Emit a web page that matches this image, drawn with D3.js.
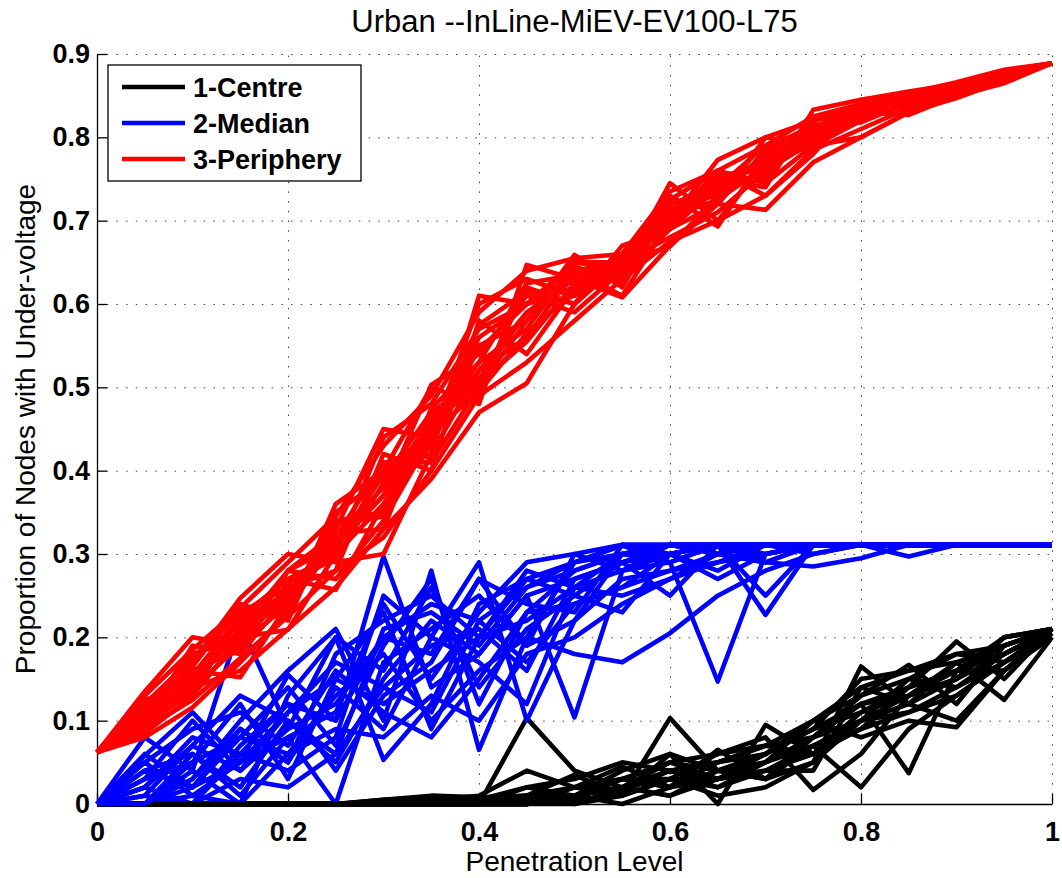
<!DOCTYPE html>
<html>
<head>
<meta charset="utf-8">
<title>Urban --InLine-MiEV-EV100-L75</title>
<script src="https://d3js.org/d3.v7.min.js"></script>
<style>
body { margin: 0; background: #fff; }
svg { font-family: Arial, "Liberation Sans", Helvetica, sans-serif; }
.grid line { stroke: #444; stroke-width: 1; stroke-dasharray: 1.5,8.2; }
.grid .domain { display: none; }
.axis path, .axis line { stroke: #000; stroke-width: 1.3; }
.axis text { font-size: 27px; font-weight: bold; fill: #000; }
.run { fill: none; stroke-width: 4.6; stroke-linejoin: round; }
</style>
</head>
<body>
<script>

// Penetration levels (x) shared by every run
var penetration = [0, 0.05, 0.1, 0.15, 0.2, 0.25, 0.3, 0.35, 0.4, 0.45, 0.5,
                   0.55, 0.6, 0.65, 0.7, 0.75, 0.8, 0.85, 0.9, 0.95, 1];

var xTicks = [0, 0.2, 0.4, 0.6, 0.8, 1];
var xTickLabels = ["0", "0.2", "0.4", "0.6", "0.8", "1"];
var yTicks = [0, 0.1, 0.2, 0.3, 0.4, 0.5, 0.6, 0.7, 0.8, 0.9];
var yTickLabels = ["0", "0.1", "0.2", "0.3", "0.4", "0.5", "0.6", "0.7", "0.8", "0.9"];

var seriesNames = ["1-Centre", "2-Median", "3-Periphery"];
var seriesColours = ["#000000", "#0000ff", "#ff0000"];

// 1-Centre runs
var centreRuns = [
    [0,0,0,0,0,0,0.005,0.008,0.005,0.02,0.01,0.03,0.05,0.03,0.05,0.08,0.12,0.14,0.16,0.19,0.21],
    [0,0,0,0,0,0,0,0.005,0,0.103,0.04,0.02,0.03,0.02,0.04,0.06,0.09,0.11,0.14,0.17,0.21],
    [0,0,0,0,0,0,0,0,0,0.005,0.02,0.01,0.103,0.04,0.03,0.07,0.1,0.13,0.16,0.18,0.21],
    [0,0,0,0,0,0,0.003,0.005,0.01,0.04,0.02,0.045,0.02,0.065,0.03,0.05,0.165,0.12,0.1,0.16,0.2],
    [0,0,0,0,0,0,0,0,0.005,0.01,0.035,0.01,0.06,0,0.095,0.06,0.11,0.14,0.195,0.15,0.21],
    [0,0,0,0,0,0,0,0.005,0,0.02,0.03,0.05,0.04,0.05,0.07,0.1,0.13,0.167,0.12,0.19,0.21],
    [0,0,0,0,0,0,0,0,0,0,0.01,0.02,0.01,0.03,0.04,0.07,0.02,0.09,0.13,0.17,0.205],
    [0,0,0,0,0,0,0,0,0,0,0.005,0.03,0.02,0.04,0.06,0.09,0.12,0.037,0.16,0.2,0.21],
    [0,0,0,0,0,0,0,0.005,0.005,0.01,0.02,0.015,0.04,0.02,0.05,0.1,0.08,0.1,0.092,0.16,0.21],
    [0,0,0,0,0,0,0,0,0,0.01,0,0.02,0.05,0.06,0.08,0.017,0.06,0.13,0.17,0.125,0.2],
    [0,0,0,0,0,0,0,0,0,0,0,0.01,0.03,0.01,0.02,0.05,0.1,0.15,0.14,0.18,0.21],
    [0,0,0,0,0,0,0,0,0,0,0.01,0,0.02,0.03,0.04,0.04,0.14,0.16,0.18,0.17,0.21],
    [0,0,0,0,0,0,0,0,0,0,0.01,0.02,0.04,0.05,0.06,0.09,0.11,0.13,0.15,0.18,0.21],
    [0,0,0,0,0,0,0,0,0,0.005,0.02,0.03,0.02,0.05,0.07,0.08,0.1,0.12,0.17,0.19,0.21],
    [0,0,0,0,0,0,0.005,0.01,0.008,0.01,0.01,0.04,0.06,0.04,0.06,0.1,0.14,0.12,0.15,0.2,0.21],
    [0,0,0,0,0,0,0,0,0,0,0.005,0.01,0.03,0.03,0.05,0.07,0.09,0.14,0.16,0.16,0.205],
    [0,0,0,0,0,0,0,0,0,0.01,0.01,0.02,0.05,0.04,0.03,0.08,0.13,0.15,0.18,0.19,0.21],
    [0,0,0,0,0,0,0,0,0,0,0.02,0.03,0.03,0.06,0.07,0.06,0.1,0.11,0.13,0.17,0.2],
    [0,0,0,0,0,0,0.003,0.005,0,0.005,0.01,0.02,0.04,0.03,0.06,0.09,0.15,0.16,0.17,0.18,0.21],
    [0,0,0,0,0,0,0,0,0,0,0.01,0.02,0.01,0.04,0.05,0.08,0.12,0.13,0.15,0.2,0.21]
];

// 2-Median runs
var medianRuns = [
    [0,0.08,0.04,0.215,0.09,0.12,0.2,0.24,0.22,0.26,0.28,0.3,0.311,0.311,0.311,0.311,0.311,0.311,0.311,0.311,0.311],
    [0,0.058,0.11,0.05,0.155,0.1,0.297,0.14,0.18,0.25,0.27,0.29,0.3,0.311,0.311,0.311,0.311,0.311,0.311,0.311,0.311],
    [0,0,0.03,0.1,0.16,0.21,0.1,0.28,0.065,0.2,0.29,0.31,0.29,0.311,0.311,0.311,0.311,0.311,0.311,0.311,0.311],
    [0,0.02,0,0.06,0.04,0.08,0.25,0.2,0.29,0.1,0.22,0.3,0.311,0.3,0.29,0.311,0.311,0.311,0.311,0.311,0.311],
    [0,0,0.06,0.02,0.1,0.05,0.15,0.22,0.18,0.25,0.104,0.28,0.3,0.311,0.311,0.311,0.311,0.311,0.311,0.311,0.311],
    [0,0.03,0.05,0.08,0.06,0.13,0.18,0.1,0.16,0.2,0.18,0.17,0.205,0.25,0.28,0.3,0.311,0.311,0.311,0.311,0.311],
    [0,0.01,0.07,0.04,0.11,0.15,0.12,0.16,0.2,0.22,0.26,0.28,0.29,0.147,0.3,0.311,0.311,0.311,0.311,0.311,0.311],
    [0,0.04,0.02,0.09,0.05,0.18,0.22,0.25,0.2,0.27,0.29,0.3,0.3,0.311,0.227,0.311,0.311,0.311,0.311,0.311,0.311],
    [0,0,0.01,0,0.13,0.2,0.053,0.12,0.24,0.27,0.25,0.29,0.311,0.3,0.311,0.311,0.311,0.311,0.311,0.311,0.311],
    [0,0,0.02,0.05,0.08,0,0.17,0.21,0.25,0.19,0.3,0.311,0.311,0.311,0.311,0.311,0.311,0.311,0.311,0.311,0.311],
    [0,0.05,0.09,0.11,0.07,0.16,0.11,0.08,0.15,0.23,0.24,0.26,0.28,0.29,0.311,0.311,0.311,0.311,0.311,0.311,0.311],
    [0,0,0,0.03,0.02,0.06,0.14,0.19,0.21,0.16,0.27,0.29,0.25,0.311,0.29,0.285,0.295,0.311,0.311,0.311,0.311],
    [0,0.02,0.08,0.06,0.12,0.1,0.2,0.18,0.27,0.24,0.23,0.311,0.3,0.311,0.25,0.311,0.311,0.297,0.311,0.311,0.311],
    [0,0,0.04,0,0.06,0.09,0.08,0.13,0.1,0.18,0.2,0.24,0.27,0.29,0.3,0.311,0.311,0.311,0.311,0.311,0.311],
    [0,0.06,0.02,0.08,0.14,0.07,0.19,0.27,0.12,0.23,0.28,0.3,0.311,0.3,0.311,0.311,0.311,0.311,0.311,0.311,0.311],
    [0,0,0.05,0.12,0.03,0.15,0.23,0.09,0.2,0.28,0.26,0.3,0.29,0.311,0.311,0.3,0.311,0.311,0.311,0.311,0.311],
    [0,0.03,0.1,0.04,0.09,0.2,0.16,0.26,0.14,0.21,0.25,0.23,0.3,0.28,0.311,0.311,0.311,0.311,0.311,0.311,0.311],
    [0,0.01,0,0.07,0.12,0.04,0.13,0.17,0.27,0.19,0.22,0.27,0.28,0.3,0.29,0.311,0.311,0.311,0.311,0.311,0.311],
    [0,0.04,0.06,0.01,0.08,0.11,0.24,0.15,0.23,0.29,0.3,0.28,0.311,0.311,0.3,0.311,0.311,0.311,0.311,0.311,0.311],
    [0,0,0.03,0.09,0.05,0.14,0.09,0.2,0.17,0.12,0.26,0.25,0.27,0.3,0.311,0.311,0.311,0.311,0.311,0.311,0.311],
    [0,0.02,0.07,0.13,0.1,0.06,0.21,0.23,0.19,0.26,0.29,0.311,0.311,0.311,0.311,0.311,0.311,0.311,0.311,0.311,0.311],
    [0,0.05,0.01,0.05,0.11,0.17,0.14,0.11,0.22,0.17,0.24,0.26,0.3,0.27,0.3,0.311,0.311,0.311,0.311,0.311,0.311]
];

// 3-Periphery runs
var peripheryRuns = [
    [0.062,0.135,0.2,0.19,0.24,0.33,0.45,0.44,0.56,0.6,0.65,0.64,0.745,0.7,0.77,0.8,0.82,0.84,0.86,0.875,0.889],
    [0.062,0.1,0.17,0.247,0.3,0.29,0.3,0.42,0.61,0.6,0.62,0.66,0.7,0.773,0.8,0.82,0.84,0.85,0.86,0.87,0.889],
    [0.062,0.08,0.116,0.17,0.23,0.36,0.4,0.5,0.48,0.647,0.63,0.64,0.71,0.75,0.74,0.833,0.845,0.853,0.866,0.881,0.889],
    [0.062,0.09,0.14,0.16,0.21,0.26,0.33,0.39,0.47,0.505,0.6,0.67,0.69,0.72,0.713,0.77,0.8,0.83,0.85,0.87,0.889],
    [0.062,0.12,0.15,0.22,0.27,0.3,0.36,0.43,0.55,0.58,0.659,0.62,0.72,0.74,0.79,0.81,0.83,0.827,0.85,0.865,0.889],
    [0.062,0.11,0.18,0.2,0.25,0.32,0.38,0.46,0.5,0.62,0.6,0.65,0.68,0.71,0.76,0.8,0.835,0.845,0.857,0.872,0.889],
    [0.062,0.1,0.16,0.152,0.24,0.34,0.35,0.45,0.52,0.56,0.64,0.61,0.7,0.745,0.77,0.79,0.82,0.84,0.855,0.87,0.889],
    [0.062,0.115,0.13,0.23,0.26,0.28,0.42,0.4,0.58,0.54,0.62,0.655,0.69,0.74,0.75,0.82,0.83,0.848,0.862,0.875,0.889],
    [0.062,0.095,0.15,0.21,0.28,0.31,0.37,0.503,0.54,0.61,0.59,0.64,0.73,0.693,0.78,0.81,0.84,0.85,0.86,0.876,0.889],
    [0.062,0.105,0.165,0.24,0.22,0.35,0.39,0.47,0.51,0.59,0.63,0.608,0.67,0.72,0.8,0.79,0.8,0.83,0.847,0.868,0.889],
    [0.062,0.125,0.14,0.19,0.28,0.27,0.34,0.44,0.6,0.63,0.61,0.66,0.7,0.76,0.73,0.78,0.845,0.855,0.864,0.878,0.889],
    [0.062,0.1,0.19,0.18,0.25,0.32,0.41,0.41,0.5,0.58,0.64,0.65,0.669,0.73,0.76,0.81,0.82,0.84,0.858,0.873,0.889],
    [0.062,0.085,0.13,0.2,0.209,0.3,0.44,0.48,0.57,0.6,0.62,0.63,0.71,0.75,0.77,0.8,0.83,0.838,0.855,0.87,0.889],
    [0.062,0.11,0.155,0.225,0.27,0.257,0.36,0.45,0.53,0.57,0.65,0.65,0.72,0.73,0.78,0.8,0.828,0.85,0.86,0.874,0.889],
    [0.062,0.13,0.185,0.235,0.29,0.345,0.43,0.49,0.59,0.64,0.655,0.66,0.725,0.76,0.79,0.825,0.84,0.852,0.865,0.879,0.889],
    [0.062,0.09,0.125,0.175,0.225,0.28,0.32,0.4,0.49,0.53,0.58,0.63,0.675,0.7,0.73,0.785,0.81,0.835,0.852,0.868,0.889],
    [0.062,0.12,0.175,0.215,0.255,0.31,0.395,0.42,0.52,0.59,0.61,0.645,0.705,0.725,0.765,0.795,0.825,0.843,0.858,0.874,0.889],
    [0.062,0.1,0.145,0.205,0.245,0.335,0.345,0.465,0.505,0.555,0.625,0.635,0.69,0.745,0.755,0.805,0.835,0.846,0.862,0.877,0.889],
    [0.062,0.11,0.16,0.185,0.265,0.295,0.385,0.435,0.575,0.615,0.6,0.655,0.715,0.72,0.785,0.815,0.818,0.842,0.857,0.871,0.889],
    [0.062,0.105,0.17,0.23,0.235,0.315,0.37,0.455,0.545,0.6,0.645,0.625,0.695,0.755,0.76,0.795,0.832,0.845,0.86,0.873,0.889],
    [0.062,0.095,0.135,0.195,0.28,0.325,0.33,0.475,0.53,0.625,0.635,0.645,0.7,0.735,0.775,0.81,0.826,0.848,0.861,0.876,0.889],
    [0.062,0.115,0.15,0.21,0.25,0.305,0.4,0.445,0.495,0.565,0.615,0.66,0.735,0.76,0.745,0.79,0.84,0.85,0.859,0.872,0.889]
];

var allRuns = [centreRuns, medianRuns, peripheryRuns];

// Dimensions
var width = 1062, height = 878;
var margin = {top: 54, right: 10, bottom: 74, left: 97};
var plotW = width - margin.left - margin.right,
    plotH = height - margin.top - margin.bottom;

var x = d3.scaleLinear().domain([0, 1]).range([0, plotW]);
var y = d3.scaleLinear().domain([0, 0.9]).range([plotH, 0]);

var svg = d3.select("body").append("svg")
    .attr("width", width)
    .attr("height", height);

var g = svg.append("g")
    .attr("transform", "translate(" + margin.left + "," + margin.top + ")");

// Dotted grid
g.append("g")
    .attr("class", "grid")
    .attr("transform", "translate(0," + plotH + ")")
    .call(d3.axisBottom(x).tickValues(xTicks).tickSize(-plotH).tickFormat(""));

g.append("g")
    .attr("class", "grid")
    .call(d3.axisLeft(y).tickValues(yTicks).tickSize(-plotW).tickFormat(""));

// Axes, ticks pointing inward
g.append("g")
    .attr("class", "axis")
    .attr("transform", "translate(0," + plotH + ")")
    .call(d3.axisBottom(x).tickValues(xTicks).tickSizeInner(-10).tickSizeOuter(0)
        .tickPadding(18).tickFormat(function(d, i) { return xTickLabels[i]; }));

g.append("g")
    .attr("class", "axis")
    .call(d3.axisLeft(y).tickValues(yTicks).tickSizeInner(-10).tickSizeOuter(0)
        .tickPadding(7).tickFormat(function(d, i) { return yTickLabels[i]; }));

// Runs, drawn interleaved the way the loop plotted them
var line = d3.line()
    .x(function(d, i) { return x(penetration[i]); })
    .y(function(d) { return y(d); });

var maxRuns = d3.max(allRuns, function(r) { return r.length; });
var ordered = [];
for (var i = 0; i < maxRuns; i++) {
    allRuns.forEach(function(runs, s) {
        if (runs[i]) ordered.push({series: s, values: runs[i]});
    });
}

g.selectAll(".run")
    .data(ordered)
    .enter().append("path")
    .attr("class", "run")
    .attr("stroke", function(d) { return seriesColours[d.series]; })
    .attr("d", function(d) { return line(d.values); });

// Title and labels
svg.append("text")
    .attr("x", margin.left + plotW / 2)
    .attr("y", 32)
    .attr("text-anchor", "middle")
    .style("font-size", "31px")
    .text("Urban --InLine-MiEV-EV100-L75");

svg.append("text")
    .attr("x", margin.left + plotW / 2)
    .attr("y", 871)
    .attr("text-anchor", "middle")
    .style("font-size", "28px")
    .text("Penetration Level");

svg.append("text")
    .attr("transform", "translate(35," + (margin.top + plotH / 2) + ") rotate(-90)")
    .attr("text-anchor", "middle")
    .style("font-size", "28px")
    .text("Proportion of Nodes with Under-voltage");

// Legend
var legend = svg.append("g").attr("transform", "translate(108,65)");

legend.append("rect")
    .attr("width", 253)
    .attr("height", 116)
    .attr("fill", "#fff")
    .attr("stroke", "#000")
    .attr("stroke-width", 1.3);

var items = legend.selectAll(".item")
    .data(seriesNames)
    .enter().append("g")
    .attr("class", "item")
    .attr("transform", function(d, i) { return "translate(0," + (22 + i * 36) + ")"; });

items.append("line")
    .attr("x1", 14).attr("x2", 77)
    .attr("stroke", function(d, i) { return seriesColours[i]; })
    .attr("stroke-width", 4.6);

items.append("text")
    .attr("x", 85)
    .attr("dy", "0.36em")
    .style("font-size", "27px")
    .style("font-weight", "bold")
    .text(function(d) { return d; });

</script>
</body>
</html>
